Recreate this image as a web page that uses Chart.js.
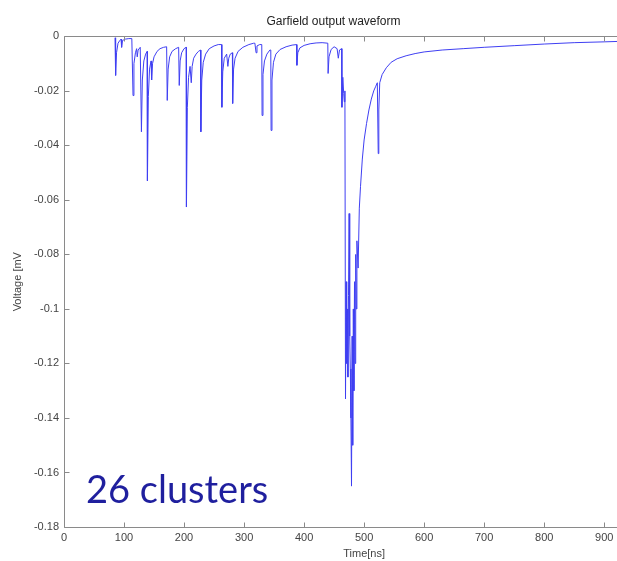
<!DOCTYPE html>
<html>
<head>
<meta charset="utf-8">
<script src="https://cdn.jsdelivr.net/npm/chart.js@4.4.0/dist/chart.umd.min.js"></script>
<style>
  html, body { margin: 0; padding: 0; background: #fff; overflow: hidden; }
  #wrap { position: relative; width: 682px; height: 561px; }
  #note {
    position: absolute; left: 86px; top: 469px;
    font-family: Lato, "Open Sans", sans-serif; font-size: 38px;
    color: #1f1f9e; white-space: nowrap; line-height: 1;
  }
</style>
</head>
<body>
<div id="wrap">
  <canvas id="waveCanvas"></canvas>
  <div id="note">26 clusters</div>
</div>
<script>
// time axis (ns) and signal (mV)
const timeNs = [
  85, 86, 87.5, 90, 93, 95, 96, 97.5, 102, 108, 113,
  115, 116.5, 119, 121, 122, 123.5, 127,
  129, 130.5, 133, 136, 138.5,
  139, 140.5, 142.5, 145, 146, 147.5, 150, 155, 160, 166, 171,
  172, 173.5, 176, 180, 186, 191,
  192, 193.5, 196, 200, 203.5,
  204, 205.5, 207.5, 210, 212, 213.5, 216, 220, 224, 227.5,
  228, 229.5, 232, 236, 242, 250, 257, 262.5,
  263, 264.5, 267, 271, 273, 274.5, 277, 280.5,
  281, 282.5, 285, 290, 298, 308, 316, 318, 320, 321.5, 326, 329.5,
  330, 331.5, 334, 338, 343, 344.5,
  345, 346.5, 349, 353, 360, 370, 380, 387.5,
  388, 389.5, 393, 400, 410, 420, 430, 439.5,
  440, 441.5, 445, 450, 455, 457, 459, 462.5,
  463, 464.5, 466, 467, 468,
  469, 470, 471, 472, 473, 474, 475, 476, 477, 478, 479, 480,
  481, 482, 483, 484, 485, 486, 487, 488, 490, 492, 494, 497,
  500, 504, 508, 512, 516, 519, 522, 523.5, 524.5, 526, 530, 537, 545,
  555, 570, 585, 600, 630, 665, 700, 750, 800, 850, 900, 930
];
const voltageMv = [
  -0.0005, -0.0143, -0.006, -0.0025, -0.0015, -0.001, -0.004, -0.0015, -0.001, -0.0008, -0.0008,
  -0.0217, -0.01, -0.006, -0.0045, -0.0075, -0.005, -0.004,
  -0.035, -0.016, -0.009, -0.0065, -0.0055,
  -0.053, -0.022, -0.012, -0.009, -0.016, -0.01, -0.0075, -0.0055, -0.0045, -0.004, -0.0038,
  -0.0235, -0.012, -0.0075, -0.0055, -0.0045, -0.004,
  -0.018, -0.009, -0.006, -0.0045, -0.004,
  -0.0626, -0.026, -0.015, -0.011, -0.017, -0.011, -0.008, -0.0065, -0.0055, -0.005,
  -0.035, -0.016, -0.0095, -0.0065, -0.0045, -0.0035, -0.003, -0.003,
  -0.026, -0.013, -0.008, -0.0065, -0.011, -0.008, -0.0065, -0.006,
  -0.0246, -0.012, -0.008, -0.0055, -0.004, -0.003, -0.0025, -0.0025, -0.006, -0.0035, -0.003, -0.003,
  -0.029, -0.014, -0.009, -0.0065, -0.005, -0.005,
  -0.0345, -0.016, -0.0095, -0.0065, -0.0048, -0.0038, -0.0032, -0.003,
  -0.0106, -0.006, -0.0042, -0.0033, -0.0027, -0.0024, -0.0023, -0.0025,
  -0.0136, -0.0075, -0.0048, -0.0038, -0.0045, -0.008, -0.005, -0.0045,
  -0.026, -0.015, -0.021, -0.024, -0.02,
  -0.133, -0.09, -0.12, -0.1, -0.125, -0.095, -0.065, -0.11, -0.122, -0.14, -0.165, -0.11,
  -0.15, -0.1, -0.13, -0.09, -0.12, -0.08, -0.1, -0.075, -0.085, -0.063, -0.055, -0.045,
  -0.038, -0.032, -0.027, -0.023, -0.02, -0.0185, -0.017, -0.043, -0.027, -0.017, -0.014, -0.0115, -0.0095,
  -0.0082, -0.0071, -0.0063, -0.0057, -0.005, -0.0045, -0.004, -0.0034, -0.0028, -0.0023, -0.002, -0.0018
];
const xTicks = [0, 100, 200, 300, 400, 500, 600, 700, 800, 900, 1000];
const yTicks = [0, -0.02, -0.04, -0.06, -0.08, -0.1, -0.12, -0.14, -0.16, -0.18];

const frameColor = "#8a8a8a";
const labelColor = "#444";

// matlab style box with inward ticks
const matlabFrame = {
  id: "matlabFrame",
  afterDatasetsDraw(chart) {
    const { ctx, chartArea: a, scales } = chart;
    const L = Math.round(a.left) + 0.5, R = Math.round(a.right) + 0.5;
    const T = Math.round(a.top) + 0.5, B = Math.round(a.bottom) + 0.5;
    ctx.save();
    ctx.strokeStyle = frameColor;
    ctx.lineWidth = 1;
    ctx.beginPath();
    ctx.rect(L, T, R - L, B - T);
    xTicks.forEach((v) => {
      const px = Math.round(scales.x.getPixelForValue(v)) + 0.5;
      ctx.moveTo(px, B); ctx.lineTo(px, B - 5);
      ctx.moveTo(px, T); ctx.lineTo(px, T + 5);
    });
    yTicks.forEach((v) => {
      const py = Math.round(scales.y.getPixelForValue(v)) + 0.5;
      ctx.moveTo(L, py); ctx.lineTo(L + 5, py);
      ctx.moveTo(R, py); ctx.lineTo(R - 5, py);
    });
    ctx.stroke();
    ctx.restore();
  }
};

const labelFont = { family: "'Liberation Sans', Arial, sans-serif", size: 11 };

new Chart(document.getElementById("waveCanvas"), {
  type: "line",
  data: {
    datasets: [{
      data: timeNs.map((t, i) => ({ x: t, y: voltageMv[i] })),
      borderColor: "#3f3ff2",
      borderWidth: 1,
      pointRadius: 0,
      tension: 0,
      fill: false
    }]
  },
  options: {
    responsive: true,
    maintainAspectRatio: false,
    animation: false,
    layout: { padding: { left: 0, right: 15, top: 0, bottom: 0 } },
    plugins: {
      legend: { display: false },
      tooltip: { enabled: false },
      title: {
        display: true,
        text: "Garfield output waveform",
        color: "#222",
        font: { family: "'Liberation Sans', Arial, sans-serif", size: 12, weight: "normal" },
        padding: { top: 14, bottom: 8 }
      }
    },
    scales: {
      x: {
        type: "linear",
        min: 0,
        max: 1000,
        afterBuildTicks: (s) => { s.ticks = xTicks.map((v) => ({ value: v })); },
        afterFit: (s) => { s.height = 34; },
        grid: { display: false, drawTicks: false },
        border: { display: false },
        ticks: { color: labelColor, font: labelFont, padding: 4, maxRotation: 0 },
        title: { display: true, text: "Time[ns]", color: labelColor, font: labelFont, padding: { top: 1, bottom: 0 } }
      },
      y: {
        min: -0.18,
        max: 0,
        afterBuildTicks: (s) => { s.ticks = yTicks.map((v) => ({ value: v })); },
        afterFit: (s) => { s.width = 64; },
        grid: { display: false, drawTicks: false },
        border: { display: false },
        ticks: { color: labelColor, font: labelFont, padding: 5, callback: (v) => String(v) },
        title: { display: true, text: "Voltage [mV", color: labelColor, font: labelFont, padding: { top: 11, bottom: 0 } }
      }
    }
  },
  plugins: [matlabFrame]
});
</script>
</body>
</html>
